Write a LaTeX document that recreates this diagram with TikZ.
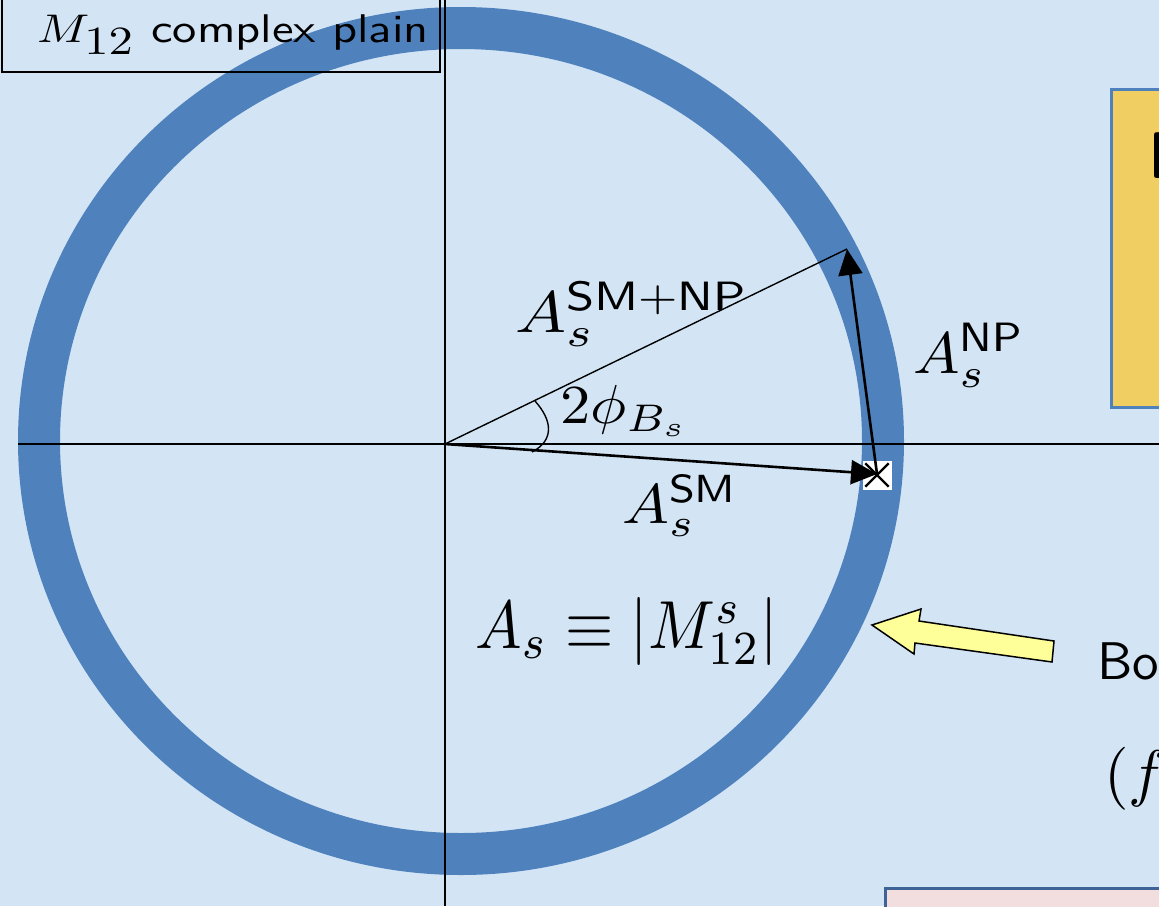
\documentclass[tikz,border=0pt]{standalone}
\usepackage{graphicx}
\usepackage{amsmath}
\usetikzlibrary{arrows.meta,calc}
\definecolor{bg}{HTML}{D3E5F5}
\definecolor{ringblue}{HTML}{4F81BD}
\definecolor{boxyellow}{HTML}{F0CE62}
\definecolor{boxpink}{HTML}{F2DEDE}
\definecolor{boxedge}{HTML}{3E6396}
\definecolor{arrowyellow}{HTML}{FFFF99}
\tikzset{
  axis/.style={draw=black,line width=1.4pt},
  thinline/.style={draw=black,line width=1.4pt},
  vec/.style={draw=black,line width=2.6pt,-{Triangle[length=26pt,width=24pt]}},
  biglbl/.style={anchor=base west,inner sep=0pt},
  panel/.style={line width=3pt},
}
\begin{document}
\begin{tikzpicture}[x=1pt,y=-1pt]
\useasboundingbox (0,0) rectangle (1159,906);
\clip (0,0) rectangle (1159,906);
\fill[bg] (0,0) rectangle (1159,906);
% right-side panels
\filldraw[panel,fill=boxyellow,draw=ringblue] (1111,89) rectangle (1180,407);
\node[biglbl] (dtxt) at (1148,178) {\scalebox{6.6}{\sffamily\bfseries D}};
\filldraw[panel,fill=boxpink,draw=boxedge] (885,888) rectangle (1180,930);
% ring
\draw[ringblue,line width=42pt] (461,441) ellipse [x radius=422pt, y radius=413pt];
% axes
\coordinate (O) at (445,444);
\coordinate (xl) at (18,444);
\coordinate (xr) at (1159,444);
\coordinate (yt) at (445,0);
\coordinate (yb) at (445,906);
\draw[axis] (xl) -- (xr);
\draw[axis] (yt) -- (yb);
% title box
\draw[line width=1.4pt] (2,-5) rectangle (440,72);
\node[biglbl] (title) at (37,42) {\scalebox{4.85}[4.0]{$M_{\textstyle 12}$ \textsf{complex plain}}};
% cross marker
\coordinate (T) at (877,474);
\coordinate (P) at (847,249);
\node[fill=white,minimum size=29pt,inner sep=0pt] (X) at (877,475) {};
\draw[line width=2.4pt] ($(X.north west)+(3,3)$) -- ($(X.south east)+(-3,-3)$);
\draw[line width=2.4pt] ($(X.north east)+(-3,3)$) -- ($(X.south west)+(3,-3)$);
% vectors
\draw[thinline] (O) -- (P);
\draw[vec] (O) -- (T);
\draw[vec] (T) -- (P);
% angle arc
\coordinate (a1) at (535,401);
\coordinate (a2) at (532,452);
\draw[thinline] (a1) .. controls (552,420) and (555,440) .. (a2);
% labels
\node[biglbl] (lsmnp) at (515,332) {\scalebox{6.8}[5.85]{$A_s^{\textsf{SM+NP}}$}};
\node[biglbl] (lphi) at (560,423) {\scalebox{6.05}[5.5]{$2\phi_{B_s}$}};
\node[biglbl] (lnp) at (913,373) {\scalebox{6.2}[5.85]{$A_s^{\textsf{NP}}$}};
\node[biglbl] (lsm) at (622,523) {\scalebox{6.25}[5.6]{$A_s^{\textsf{SM}}$}};
\node[biglbl] (ldef) at (475,648) {\scalebox{6.2}[6.8]{$A_s\equiv|M_{12}^s|$}};
% yellow block arrow
\filldraw[fill=arrowyellow,draw=black,line width=1.5pt]
  (872,625) -- (921,609) -- (919,621) -- (1054,641) -- (1052,662) -- (915,643) -- (914,654) -- cycle;
\node[biglbl] (lbo) at (1097,679) {\scalebox{5.3}{\sffamily Bo}};
\node[biglbl] (lf) at (1104,794) {\scalebox{6.3}{$(f$}};
\end{tikzpicture}
\end{document}
